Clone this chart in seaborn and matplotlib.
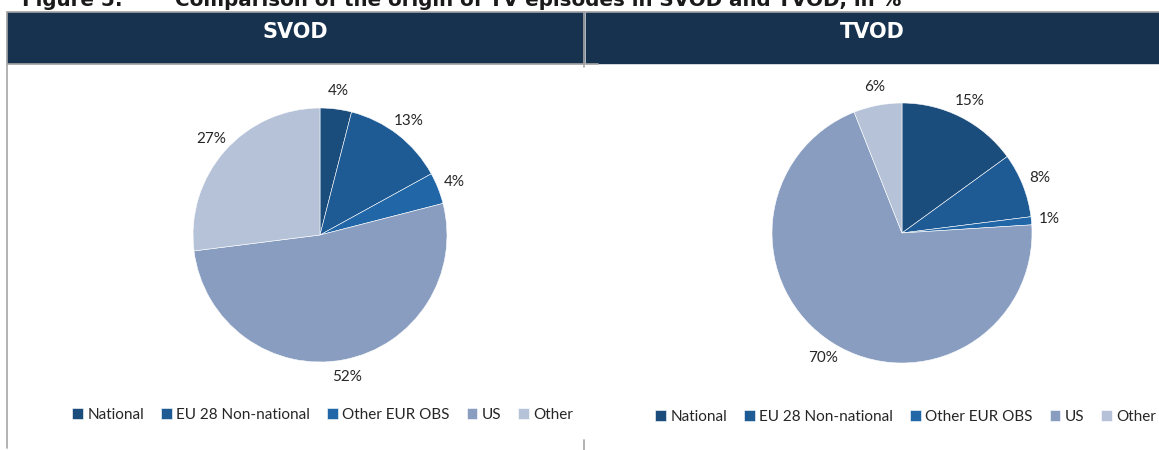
import matplotlib
matplotlib.use("Agg")
import matplotlib.pyplot as plt
import seaborn as sns
from matplotlib.patches import Rectangle
from matplotlib.lines import Line2D

# Data
categories = ["National", "EU 28 Non-national", "Other EUR OBS", "US", "Other"]
svod_values = [4, 13, 4, 52, 27]
tvod_values = [15, 8, 1, 70, 6]
panel_titles = ["SVOD", "TVOD"]
colors = ["#1a4c7c", "#1e5a94", "#2166a6", "#889dc0", "#b5c2d8"]

sns.set_style("white")
plt.rcParams["font.family"] = ["Lato", "DejaVu Sans"]

W, H = 1159, 450
fig = plt.figure(figsize=(W / 100, H / 100), dpi=100)
fig.patch.set_facecolor("white")


def px(x, y):
    # pixel coords (top-left origin) -> figure fraction
    return x / W, 1 - y / H


# title, cut at the top
fig.text(22 / W, 1 - 6 / H, "Figure 5:", fontsize=14.3, fontweight="bold",
         family="DejaVu Sans", va="baseline", ha="left", color="#1a1a1a")
fig.text(175 / W, 1 - 6 / H,
         "Comparison of the origin of TV episodes in SVOD and TVOD, in %",
         fontsize=14.3, fontweight="bold", family="DejaVu Sans",
         va="baseline", ha="left", color="#1a1a1a")

# header bands
header_color = "#16324f"
gray = "#a6a6a6"
for x0, x1, title in [(7, 584, panel_titles[0]), (586, 1159, panel_titles[1])]:
    fig.patches.append(Rectangle(px(x0, 63), (x1 - x0) / W, 51 / H,
                                 transform=fig.transFigure, color=header_color,
                                 zorder=0))
    fig.text((x0 + x1) / 2 / W, 1 - 32 / H, title, color="white",
             fontsize=15, fontweight="bold", family="DejaVu Sans",
             ha="center", va="center")

# thin gray frame lines
lines = [((7, 7), (12, 448)), ((7, 1159), (12, 12)), ((584, 584), (12, 67)),
         ((7, 598), (63.5, 63.5)), ((584, 584), (440, 450))]
for xs, ys in lines:
    fig.lines.append(Line2D([x / W for x in xs], [1 - y / H for y in ys],
                            transform=fig.transFigure, color=gray, lw=1.2))

# pies
pie_specs = [(svod_values, 320, 235, 127, 323, 415),
             (tvod_values, 902, 233, 130, 906, 417)]
span = 1.45
for values, cx, cy, r, lx, ly in pie_specs:
    size = 2 * r * span
    ax = fig.add_axes([(cx - size / 2) / W, 1 - (cy + size / 2) / H,
                       size / W, size / H])
    wedges, texts, autotexts = ax.pie(
        values,
        colors=colors,
        startangle=90,
        counterclock=False,
        autopct=lambda p: f"{p:.0f}%",
        pctdistance=1.14,
        wedgeprops={"edgecolor": "white", "linewidth": 0.4},
        textprops={"fontsize": 11, "color": "#262626"},
    )
    ax.set_xlim(-span, span)
    ax.set_ylim(-span, span)
    ax.set_aspect("equal")
    ax.axis("off")
    ax.legend(wedges, categories, loc="center",
              bbox_to_anchor=(lx / W, 1 - ly / H),
              bbox_transform=fig.transFigure, ncol=5, frameon=False,
              fontsize=11, handlelength=0.7, handleheight=0.7,
              handletextpad=0.3, columnspacing=1.1,
              labelcolor="#262626")

fig.savefig("out.png", dpi=100, facecolor="white")
